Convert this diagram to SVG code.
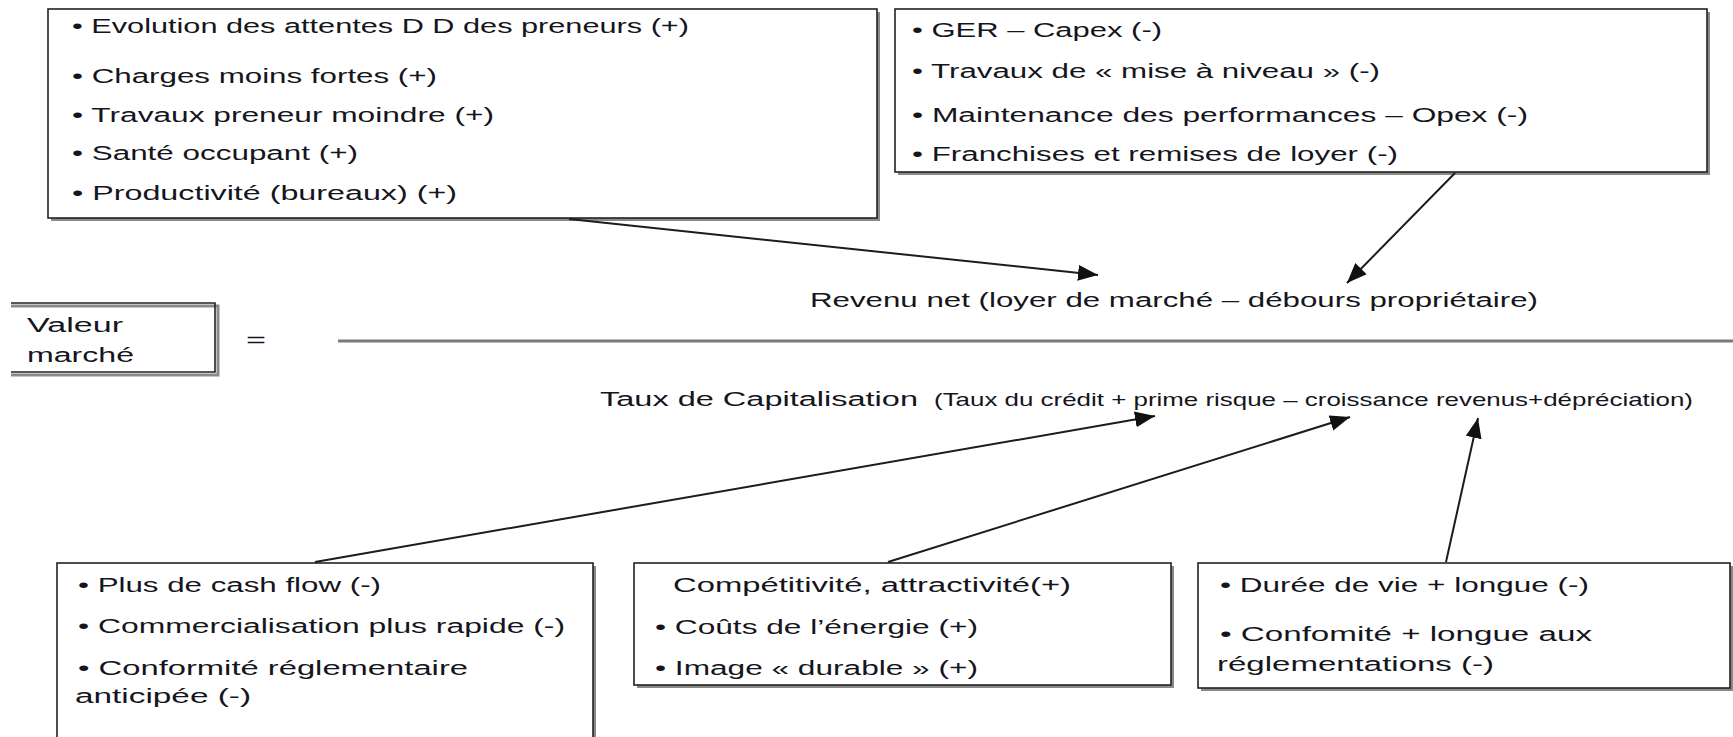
<svg xmlns="http://www.w3.org/2000/svg" width="1733" height="737" viewBox="0 0 1733 737">
<style>
.t{font-family:"Liberation Sans",Arial,sans-serif;font-size:20px;fill:#151520}
.tc{font-family:"Liberation Sans",Arial,sans-serif;font-size:19px;fill:#151520}
.box{fill:#fff;stroke:#222;stroke-width:1.6}
.sh{fill:#8a8a8a}
.con{stroke:#1c1c1c;stroke-width:2;fill:none}
</style>
<defs>
<marker id="ah" markerUnits="userSpaceOnUse" markerWidth="22" markerHeight="18" refX="20" refY="8" orient="auto">
<path d="M0,0 L20,8 L0,16 z" fill="#111"/>
</marker>
</defs>
<rect width="1733" height="737" fill="#fff"/>

<g id="box-preneurs">
<rect class="sh" x="51" y="12" width="829" height="209"/>
<rect class="box" x="48" y="9" width="829" height="209"/>
<text class="t" x="72" y="33" textLength="617" lengthAdjust="spacingAndGlyphs">• Evolution des attentes D D des preneurs (+)</text>
<text class="t" x="72" y="83" textLength="365" lengthAdjust="spacingAndGlyphs">• Charges moins fortes (+)</text>
<text class="t" x="72" y="122" textLength="422" lengthAdjust="spacingAndGlyphs">• Travaux preneur moindre (+)</text>
<text class="t" x="72" y="160" textLength="286" lengthAdjust="spacingAndGlyphs">• Santé occupant (+)</text>
<text class="t" x="72" y="200" textLength="385" lengthAdjust="spacingAndGlyphs">• Productivité (bureaux) (+)</text>
</g>

<g id="box-capex">
<rect class="sh" x="898" y="12" width="812" height="163"/>
<rect class="box" x="895" y="9" width="812" height="163"/>
<text class="t" x="912" y="37" textLength="250" lengthAdjust="spacingAndGlyphs">• GER – Capex (-)</text>
<text class="t" x="912" y="78" textLength="468" lengthAdjust="spacingAndGlyphs">• Travaux de « mise à niveau » (-)</text>
<text class="t" x="912" y="122" textLength="616" lengthAdjust="spacingAndGlyphs">• Maintenance des performances – Opex (-)</text>
<text class="t" x="912" y="161" textLength="486" lengthAdjust="spacingAndGlyphs">• Franchises et remises de loyer (-)</text>
</g>

<g id="valeur">
<path d="M11,306 H218 V375 H11" fill="none" stroke="#8a8a8a" stroke-width="3"/>
<path d="M11,303 H215 V372 H11" fill="none" stroke="#222" stroke-width="1.6"/>
<text class="t" x="27" y="332" textLength="96" lengthAdjust="spacingAndGlyphs">Valeur</text>
<text class="t" x="27" y="362" textLength="107" lengthAdjust="spacingAndGlyphs">marché</text>
</g>

<g id="formule">
<text class="t" x="246" y="347" textLength="20" lengthAdjust="spacingAndGlyphs">=</text>
<line x1="338" y1="341" x2="1733" y2="341" stroke="#7a7a7a" stroke-width="3.2"/>
<text class="t" x="810" y="307" textLength="728" lengthAdjust="spacingAndGlyphs">Revenu net (loyer de marché – débours propriétaire)</text>
<text class="t" x="600" y="406" textLength="318" lengthAdjust="spacingAndGlyphs">Taux de Capitalisation</text>
<text class="tc" x="934" y="406" textLength="759" lengthAdjust="spacingAndGlyphs">(Taux du crédit + prime risque – croissance revenus+dépréciation)</text>
</g>

<g id="box-cashflow">
<rect class="sh" x="60" y="566" width="536" height="200"/>
<rect class="box" x="57" y="563" width="536" height="200"/>
<text class="t" x="78" y="592" textLength="303" lengthAdjust="spacingAndGlyphs">• Plus de cash flow (-)</text>
<text class="t" x="78" y="633" textLength="487" lengthAdjust="spacingAndGlyphs">• Commercialisation plus rapide (-)</text>
<text class="t" x="78" y="675" textLength="390" lengthAdjust="spacingAndGlyphs">• Conformité réglementaire</text>
<text class="t" x="75" y="703" textLength="176" lengthAdjust="spacingAndGlyphs">anticipée (-)</text>
</g>

<g id="box-competitivite">
<rect class="sh" x="637" y="566" width="537" height="122"/>
<rect class="box" x="634" y="563" width="537" height="122"/>
<text class="t" x="673" y="592" textLength="398" lengthAdjust="spacingAndGlyphs">Compétitivité, attractivité(+)</text>
<text class="t" x="655" y="634" textLength="323" lengthAdjust="spacingAndGlyphs">• Coûts de l’énergie (+)</text>
<text class="t" x="655" y="675" textLength="323" lengthAdjust="spacingAndGlyphs">• Image « durable » (+)</text>
</g>

<g id="box-duree">
<rect class="sh" x="1201" y="566" width="532" height="125"/>
<rect class="box" x="1198" y="563" width="532" height="125"/>
<text class="t" x="1220" y="592" textLength="369" lengthAdjust="spacingAndGlyphs">• Durée de vie + longue (-)</text>
<text class="t" x="1220" y="641" textLength="372" lengthAdjust="spacingAndGlyphs">• Confomité + longue aux</text>
<text class="t" x="1217" y="671" textLength="277" lengthAdjust="spacingAndGlyphs">réglementations (-)</text>
</g>

<g id="connecteurs">
<line class="con" x1="569" y1="219" x2="1098" y2="275" marker-end="url(#ah)"/>
<line class="con" x1="1455" y1="173" x2="1347" y2="283" marker-end="url(#ah)"/>
<line class="con" x1="315" y1="562" x2="1155" y2="416" marker-end="url(#ah)"/>
<line class="con" x1="888" y1="562" x2="1350" y2="417" marker-end="url(#ah)"/>
<line class="con" x1="1446" y1="562" x2="1478" y2="418" marker-end="url(#ah)"/>
</g>
</svg>
